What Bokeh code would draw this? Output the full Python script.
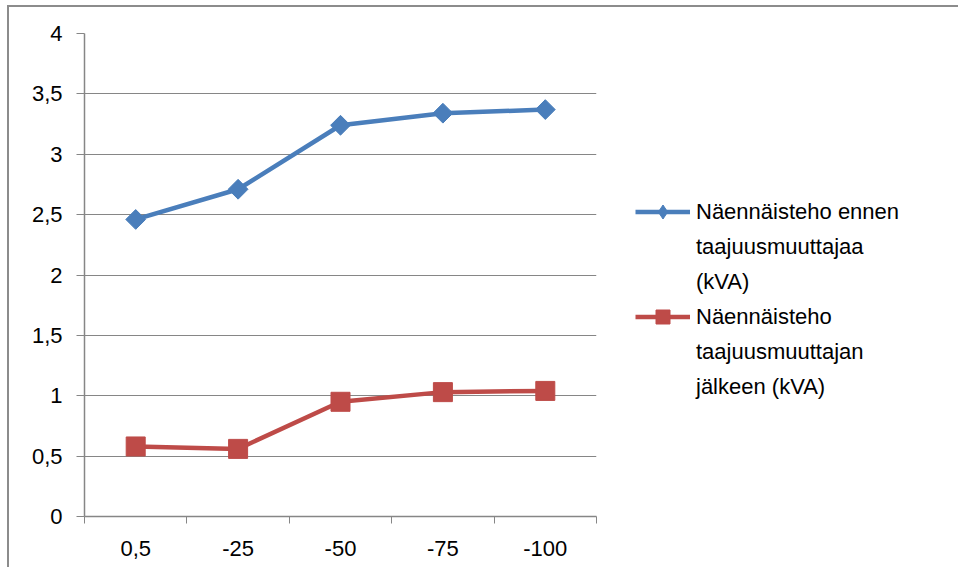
import numpy as np
from bokeh.plotting import figure
from bokeh.models import (Range1d, FixedTicker, CustomJSTickFormatter, Legend, LegendItem)
from bokeh.embed import file_html
from bokeh.resources import INLINE

categories = ["0,5", "-25", "-50", "-75", "-100"]
before_kva = [2.46, 2.71, 3.24, 3.34, 3.37]
after_kva = [0.58, 0.56, 0.95, 1.03, 1.04]
y_ticks = [0, 0.5, 1, 1.5, 2, 2.5, 3, 3.5, 4]
label_before = ["Näennäisteho ennen", "taajuusmuuttajaa", "(kVA)"]
label_after = ["Näennäisteho", "taajuusmuuttajan", "jälkeen (kVA)"]

BLUE = "#4A7EBB"
RED = "#BE4B48"
GRAY = "#868686"
FONT = "Liberation Sans"
FS = "22px"

xs = [i + 0.5 for i in range(len(categories))]

p = figure(frame_width=512, frame_height=483, output_backend="svg", toolbar_location=None,
           x_range=Range1d(0, len(categories)), y_range=Range1d(0, 4),
           min_border_left=75, min_border_right=0, min_border_top=26, min_border_bottom=51,
           styles={"border-left": "2px solid #8c8c8c", "border-top": "2px solid #8c8c8c",
                   "margin-left": "7px", "margin-top": "5px"})
p.outline_line_color = None
p.background_fill_color = "white"
p.border_fill_color = "white"

# y axis
p.yaxis.ticker = FixedTicker(ticks=y_ticks)
p.yaxis.formatter = CustomJSTickFormatter(code="return tick.toString().replace('.', ',')")
p.yaxis.axis_line_color = GRAY
p.yaxis.axis_line_width = 1.5
p.yaxis.major_tick_line_color = GRAY
p.yaxis.major_tick_line_width = 1
p.yaxis.major_tick_out = 8
p.yaxis.major_tick_in = 0
p.yaxis.minor_tick_line_color = None
p.yaxis.major_label_standoff = 14
p.yaxis.major_label_text_font = FONT
p.yaxis.major_label_text_font_size = FS
p.yaxis.major_label_text_color = "black"

# x axis
p.xaxis.ticker = FixedTicker(ticks=xs, minor_ticks=list(range(len(categories) + 1)))
p.xaxis.formatter = CustomJSTickFormatter(args=dict(labels=categories),
                                          code="return labels[Math.floor(tick)]")
p.xaxis.axis_line_color = GRAY
p.xaxis.axis_line_width = 1.5
p.xaxis.major_tick_line_color = None
p.xaxis.major_tick_out = 6
p.xaxis.major_tick_in = 0
p.xaxis.minor_tick_line_color = GRAY
p.xaxis.minor_tick_line_width = 1
p.xaxis.minor_tick_out = 7
p.xaxis.minor_tick_in = 0
p.xaxis.major_label_standoff = 17
p.xaxis.major_label_text_font = FONT
p.xaxis.major_label_text_font_size = FS
p.xaxis.major_label_text_color = "black"

p.xgrid.grid_line_color = None
p.ygrid.grid_line_color = GRAY
p.ygrid.grid_line_width = 1

l1 = p.line(xs, before_kva, line_color=BLUE, line_width=4.5)
# diamond key (hidden under the rotated squares, used for the legend)
d1 = p.scatter(xs, before_kva, marker="diamond", size=16, fill_color=BLUE, line_color=BLUE)
s1 = p.scatter(xs, before_kva, marker="square", angle=np.pi / 4, size=14,
               fill_color=BLUE, line_color=BLUE)
l2 = p.line(xs, after_kva, line_color=RED, line_width=4.5)
s2 = p.scatter(xs, after_kva, marker="square", size=19, fill_color=RED, line_color=RED)

blank = p.line([], [], line_alpha=0)

items = [LegendItem(label=label_before[0], renderers=[l1, d1])]
items += [LegendItem(label=t, renderers=[blank]) for t in label_before[1:]]
items += [LegendItem(label=label_after[0], renderers=[l2, s2])]
items += [LegendItem(label=t, renderers=[blank]) for t in label_after[1:]]

legend = Legend(items=items, location=(39, 112))
legend.padding = 0
legend.margin = 0
legend.spacing = 0
legend.border_line_color = None
legend.background_fill_alpha = 0
legend.glyph_width = 55
legend.glyph_height = 35
legend.label_standoff = 6
legend.label_text_font = FONT
legend.label_text_font_size = FS
legend.label_text_color = "black"
p.add_layout(legend, "right")

open("out.html", "w").write(file_html(p, INLINE))
